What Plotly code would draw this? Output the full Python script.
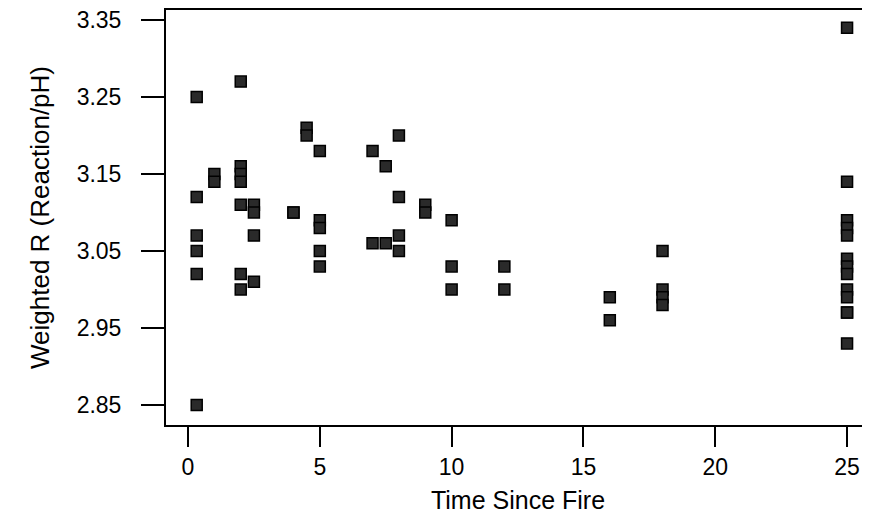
import plotly.graph_objects as go

# Data
time_since_fire = (
    [0.33] * 6 + [1] * 2 + [2] * 7 + [2.5] * 4 + [4] * 2 + [4.5] * 2 + [5] * 5 +
    [7] * 2 + [7.5] * 2 + [8] * 4 + [9] * 2 + [10] * 3 + [12] * 2 + [16] * 2 +
    [18] * 4 + [25] * 13
)
weighted_r = [
    3.25, 3.12, 3.07, 3.05, 3.02, 2.85,           # 0.33
    3.15, 3.14,                                   # 1
    3.27, 3.16, 3.15, 3.14, 3.11, 3.02, 3.00,     # 2
    3.11, 3.10, 3.07, 3.01,                       # 2.5
    3.10, 3.10,                                   # 4
    3.21, 3.20,                                   # 4.5
    3.18, 3.09, 3.08, 3.05, 3.03,                 # 5
    3.18, 3.06,                                   # 7
    3.16, 3.06,                                   # 7.5
    3.20, 3.12, 3.07, 3.05,                       # 8
    3.11, 3.10,                                   # 9
    3.09, 3.03, 3.00,                             # 10
    3.03, 3.00,                                   # 12
    2.99, 2.96,                                   # 16
    3.05, 3.00, 2.99, 2.98,                       # 18
    3.34, 3.14, 3.09, 3.08, 3.07, 3.04, 3.03, 3.02, 3.00, 2.99, 2.97, 2.97, 2.93,  # 25
]

x_ticks = [0, 5, 10, 15, 20, 25]
y_ticks = [2.85, 2.95, 3.05, 3.15, 3.25, 3.35]
y_tick_labels = ["2.85", "2.95", "3.05", "3.15", "3.25", "3.35"]

FONT = "Liberation Sans, Arial, Helvetica, sans-serif"

fig = go.Figure(
    go.Scatter(
        x=time_since_fire,
        y=weighted_r,
        mode="markers",
        marker=dict(symbol="square", size=11, color="#2a2a2a",
                    line=dict(color="#000000", width=1.5)),
        showlegend=False,
        hoverinfo="x+y",
    )
)

# The page body adds an 8px margin, so the figure is sized to fit the window.
fig.update_layout(
    width=862,
    height=510,
    margin=dict(l=158, r=0, t=2, b=93),
    paper_bgcolor="white",
    plot_bgcolor="white",
    font=dict(family=FONT, color="#000000"),
)

fig.update_xaxes(
    range=[-0.835, 25.87],
    tickvals=x_ticks,
    ticks="outside",
    ticklen=20,
    tickwidth=1.5,
    tickcolor="#000",
    showline=True,
    linecolor="#000",
    linewidth=2,
    mirror=True,
    showgrid=False,
    zeroline=False,
    tickfont=dict(size=23, family=FONT),
    ticklabelstandoff=0,
    ticklabeloverflow="allow",
    title=dict(text="Time Since Fire", font=dict(size=25, family=FONT), standoff=13),
)

fig.update_yaxes(
    range=[2.824, 3.363],
    tickvals=y_ticks,
    ticktext=y_tick_labels,
    ticks="outside",
    ticklen=23,
    tickwidth=1.5,
    tickcolor="#000",
    showline=True,
    linecolor="#000",
    linewidth=2,
    mirror=False,
    showgrid=False,
    zeroline=False,
    tickfont=dict(size=23, family=FONT),
    ticklabelstandoff=15,
    ticklabeloverflow="allow",
    title=dict(text="Weighted R (Reaction/pH)", font=dict(size=26, family=FONT), standoff=20),
)

fig.write_html("out.html")
